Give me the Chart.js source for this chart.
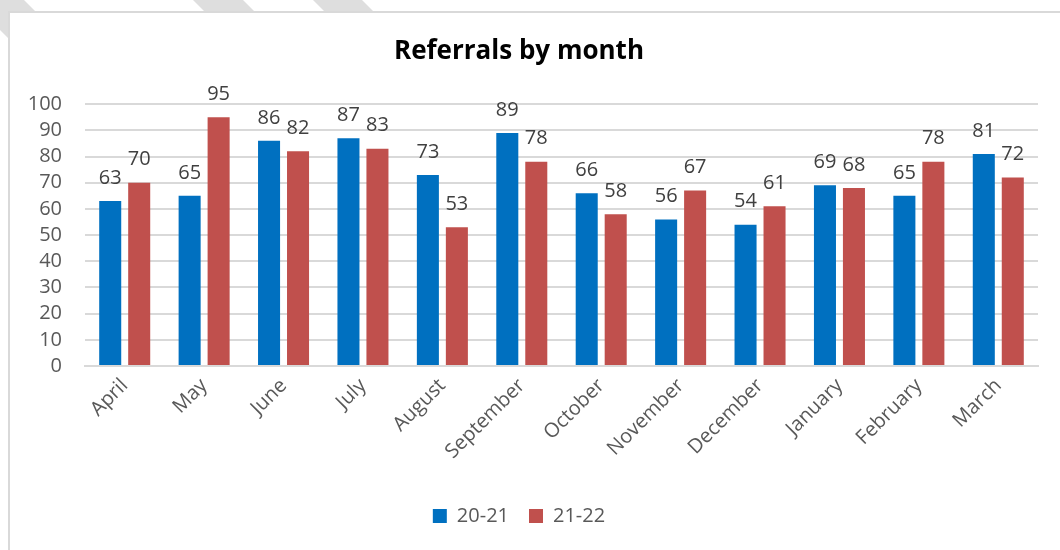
<!DOCTYPE html>
<html>
<head>
<meta charset="utf-8">
<script src="https://cdn.jsdelivr.net/npm/chart.js@4"></script>
<style>
    html, body { margin: 0; padding: 0; background: #fff; }
    body { width: 1060px; height: 550px; position: relative; overflow: hidden; }
    .stripe { position: absolute; left: 0; top: 0; width: 1060px; height: 550px; background: #dedede; }
    #frame {
        position: absolute; left: 8px; top: 11px; width: 1060px; height: 560px;
        background: #fff; border-left: 2px solid #d9d9d9; border-top: 2px solid #d9d9d9;
    }
    #wrap { position: absolute; left: 0; top: 0; width: 1060px; height: 550px; }
</style>
</head>
<body>
<!-- decorative stripes behind the frame -->
<div class="stripe" style="clip-path: polygon(-30px 0, 24px 0, 84px 60px, 30px 60px);"></div>
<div class="stripe" style="clip-path: polygon(193px 0, 243px 0, 303px 60px, 253px 60px);"></div>
<div class="stripe" style="clip-path: polygon(313px 0, 362px 0, 422px 60px, 373px 60px);"></div>
<div id="frame"></div>
<div id="wrap"><canvas id="referralsChart" width="1060" height="550"></canvas></div>

<script>
// Data
const months = ['April', 'May', 'June', 'July', 'August', 'September', 'October',
    'November', 'December', 'January', 'February', 'March'];
const referrals2021 = [63, 65, 86, 87, 73, 89, 66, 56, 54, 69, 65, 81];
const referrals2122 = [70, 95, 82, 83, 53, 78, 58, 67, 61, 68, 78, 72];
const seriesNames = ['20-21', '21-22'];

const FONT = '"Open Sans", Lato, sans-serif';

// value labels above each bar
const barLabels = {
    id: 'barLabels',
    afterDatasetsDraw(chart) {
        const c = chart.ctx;
        c.save();
        c.font = '20px ' + FONT;
        c.fillStyle = '#404040';
        c.textAlign = 'center';
        c.textBaseline = 'bottom';
        chart.data.datasets.forEach((ds, i) => {
            chart.getDatasetMeta(i).data.forEach((bar, j) => {
                c.fillText(ds.data[j], bar.x, bar.y - 13);
            });
        });
        c.restore();
    }
};

const ctx = document.getElementById('referralsChart').getContext('2d');
Chart.defaults.font.family = FONT;
Chart.defaults.color = '#595959';

new Chart(ctx, {
    type: 'bar',
    data: {
        labels: months,
        datasets: [
            { label: seriesNames[0], data: referrals2021, backgroundColor: '#0070C0' },
            { label: seriesNames[1], data: referrals2122, backgroundColor: '#C0504D' }
        ]
    },
    options: {
        responsive: false,
        animation: false,
        categoryPercentage: 0.73,
        barPercentage: 0.76,
        layout: { padding: { left: 0, right: 22, top: 0, bottom: 14 } },
        plugins: {
            title: {
                display: true,
                text: 'Referrals by month',
                color: '#000',
                font: { size: 26, weight: 'bold' },
                padding: { top: 36, bottom: 37 }
            },
            legend: {
                position: 'bottom',
                labels: {
                    boxWidth: 14,
                    boxHeight: 14,
                    font: { size: 20 },
                    padding: 20
                }
            },
            tooltip: { enabled: false }
        },
        scales: {
            x: {
                afterFit: s => { s.height = 120; },
                grid: { display: false, drawTicks: false },
                border: { display: true, color: '#d9d9d9', width: 2 },
                ticks: {
                    font: { size: 20 },
                    minRotation: 45,
                    maxRotation: 45,
                    padding: 8
                }
            },
            y: {
                min: 0,
                max: 100,
                afterFit: s => { s.width = 85; },
                grid: { color: '#d9d9d9', lineWidth: 2, drawTicks: false },
                border: { display: false },
                ticks: {
                    stepSize: 10,
                    autoSkip: false,
                    font: { size: 20 },
                    padding: 23
                }
            }
        }
    },
    plugins: [barLabels]
});
</script>
</body>
</html>
